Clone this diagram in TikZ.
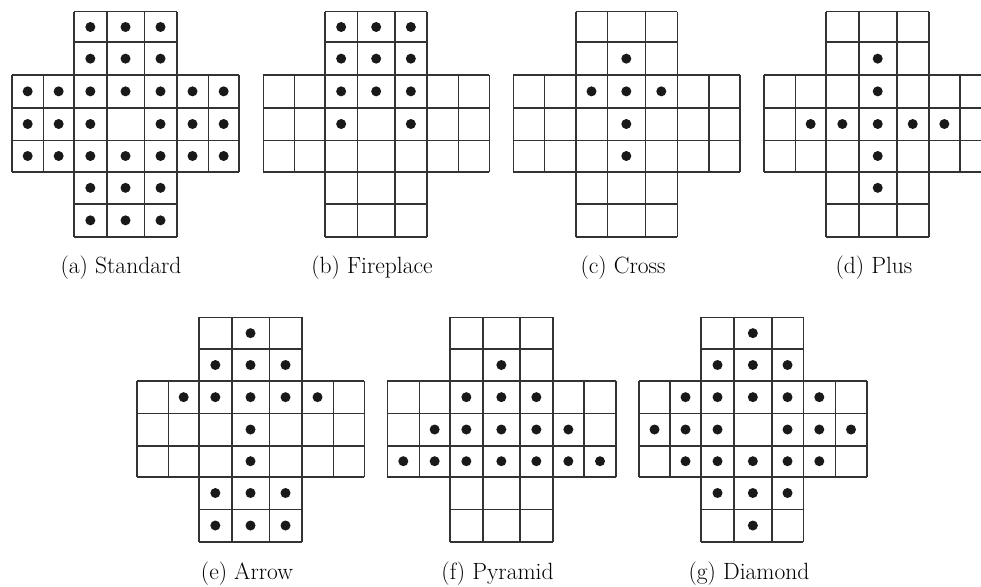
\documentclass[tikz,border=0pt]{standalone}
\begin{document}
\tikzset{
  gridline/.style={line width=1.6pt, draw=black!80},
  peg/.style={fill=black!90},
  captext/.style={anchor=base, inner sep=0pt, font=\fontsize{23.5}{28}\selectfont}
}
\newcommand\pegboard[3]{%
  \def\bx{{#1}}\def\by{{#2}}%
  \foreach \rr in {0,1,6,7} \draw[gridline] ({\bx[2]},{\by[\rr]}) -- ({\bx[5]},{\by[\rr]});
  \foreach \rr in {2,...,5} \draw[gridline] ({\bx[0]},{\by[\rr]}) -- ({\bx[7]},{\by[\rr]});
  \foreach \cc in {0,1,6,7} \draw[gridline] ({\bx[\cc]},{\by[2]}) -- ({\bx[\cc]},{\by[5]});
  \foreach \cc in {2,...,5} \draw[gridline] ({\bx[\cc]},{\by[0]}) -- ({\bx[\cc]},{\by[7]});
  \foreach \cc/\rr in {#3} {%
    \pgfmathtruncatemacro\cn{\cc+1}%
    \pgfmathtruncatemacro\rn{\rr+1}%
    \pgfmathsetmacro\xl{\bx[\cc]}%
    \pgfmathsetmacro\xr{\bx[\cn]}%
    \pgfmathsetmacro\yt{\by[\rr]}%
    \pgfmathsetmacro\yb{\by[\rn]}%
    \fill[peg] ({(\xl+\xr)/2},{(\yt+\yb)/2}) circle[radius=5pt];
  }
}
\begin{tikzpicture}[x=1pt,y=-1pt]
\useasboundingbox (0,0) rectangle (981,586);
\clip (0,0) rectangle (981,586);
% (a) Standard
\pegboard{12,43.3,74,106.7,144.3,176.7,208.3,239}{11.7,42.3,75,107.7,140.3,171.7,204,236.7}
{2/0,3/0,4/0,2/1,3/1,4/1,0/2,1/2,2/2,3/2,4/2,5/2,6/2,0/3,1/3,2/3,4/3,5/3,6/3,0/4,1/4,2/4,3/4,4/4,5/4,6/4,2/5,3/5,4/5,2/6,3/6,4/6}
% (b) Fireplace
\pegboard{263.3,294.3,325,357.3,395,426.7,458.3,489.3}{11.7,42.3,75,107.7,140.3,171.7,204,236.7}
{2/0,3/0,4/0,2/1,3/1,4/1,2/2,3/2,4/2,2/3,4/3}
% (c) Cross
\pegboard{513.3,544.3,575.7,607.3,645.3,677.3,709,740}{11.7,42.3,75,107.7,140.3,171.7,204,236.7}
{3/1,2/2,3/2,4/2,3/3,3/4}
% (d) Plus
\pegboard{764,795.3,826,858.7,896.7,928.7,960,992}{11.7,42.3,75,107.7,140.3,171.7,204,236.7}
{3/1,3/2,1/3,2/3,3/3,4/3,5/3,3/4,3/5}
% (e) Arrow
\pegboard{136.7,168.3,199,231.7,269.3,301.7,333.3,364.3}{317.3,349,381,413.3,445.7,476.7,509.3,541.7}
{3/0,2/1,3/1,4/1,1/2,2/2,3/2,4/2,5/2,3/3,3/4,2/5,3/5,4/5,2/6,3/6,4/6}
% (f) Pyramid
\pegboard{387.3,419.3,450,482.7,520,552.7,584,616}{317.3,349,381,413.3,445.7,476.7,509.3,541.7}
{3/1,2/2,3/2,4/2,1/3,2/3,3/3,4/3,5/3,0/4,1/4,2/4,3/4,4/4,5/4,6/4}
% (g) Diamond
\pegboard{639,670,701,734,771.7,803.3,835.3,866.7}{317.3,349,381,413.3,445.7,476.7,509.3,541.7}
{3/0,2/1,3/1,4/1,1/2,2/2,3/2,4/2,5/2,0/3,1/3,2/3,4/3,5/3,6/3,1/4,2/4,3/4,4/4,5/4,2/5,3/5,4/5,3/6}
% captions
\node[captext] (capa) at (121,273) {(a) Standard};
\node[captext] (capb) at (372,273) {(b) Fireplace};
\node[captext] (capc) at (623,273) {(c) Cross};
\node[captext] (capd) at (874,273) {(d) Plus};
\node[captext] (cape) at (247,579) {(e) Arrow};
\node[captext] (capf) at (497.5,579) {(f) Pyramid};
\node[captext] (capg) at (749,579) {(g) Diamond};
\end{tikzpicture}
\end{document}
